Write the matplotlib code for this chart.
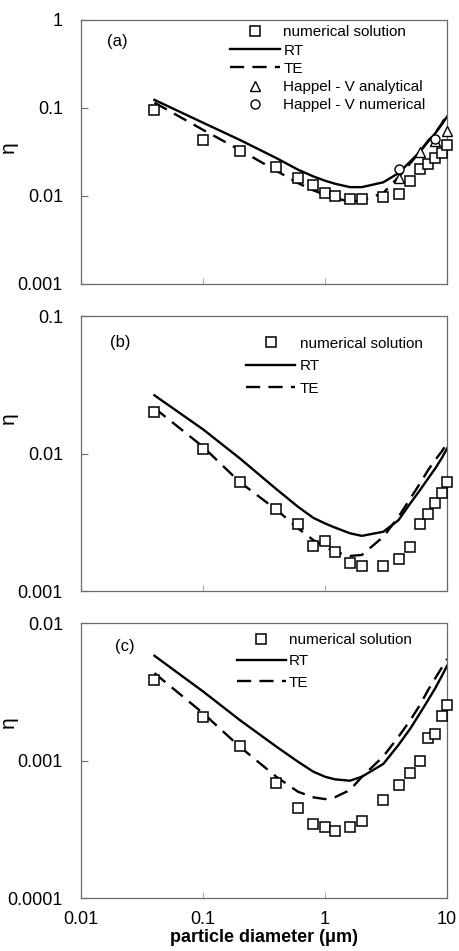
import matplotlib
matplotlib.use("Agg")
import matplotlib.pyplot as plt

plt.rcParams['font.family'] = ['Liberation Sans', 'DejaVu Sans']

# particle diameters (um), shared by all series
d = [0.04, 0.1, 0.2, 0.4, 0.6, 0.8, 1, 1.2, 1.6, 2, 3, 4, 5, 6, 7, 8, 9, 10]

# panel (a)
a_num = [0.095, 0.0427, 0.0326, 0.0211, 0.016, 0.0133, 0.0108, 0.0099, 0.0092,
         0.0092, 0.0097, 0.0106, 0.0149, 0.0202, 0.0232, 0.0272, 0.0307, 0.0381]
a_rt = [0.1236, 0.068, 0.0434, 0.0269, 0.0199, 0.0167, 0.0149, 0.0138, 0.0126,
        0.0126, 0.0143, 0.0182, 0.0247, 0.032, 0.0416, 0.0517, 0.0642, 0.08]
a_te = [0.115, 0.0564, 0.0334, 0.0193, 0.014, 0.0116, 0.0103, 0.00947, 0.0086,
        0.0089, 0.0108, 0.0164, 0.0236, 0.032, 0.0427, 0.052, 0.066, 0.084]
happel_an_d = [4, 6, 8, 10]
happel_an = [0.016, 0.032, 0.0416, 0.0554]
happel_num_d = [4, 8]
happel_num = [0.0204, 0.0442]

# panel (b)
b_num = [0.0201, 0.0108, 0.00624, 0.00393, 0.00305, 0.00211, 0.00232, 0.00192, 0.00161,
         0.00152, 0.00152, 0.00172, 0.0021, 0.00305, 0.00363, 0.00435, 0.00519, 0.00616]
b_rt = [0.0265, 0.0150, 0.00923, 0.0055, 0.0041, 0.00341, 0.0031, 0.0029, 0.00263,
        0.00252, 0.0027, 0.00328, 0.00435, 0.00543, 0.0066, 0.0078, 0.0092, 0.0109]
b_te = [0.0214, 0.0112, 0.0062, 0.0039, 0.00286, 0.00235, 0.0021, 0.00193, 0.0018,
        0.00183, 0.00248, 0.00347, 0.00472, 0.00607, 0.0076, 0.009, 0.0103, 0.0119]

# panel (c)
c_num = [0.00382, 0.00206, 0.00128, 0.000682, 0.000448, 0.000348, 0.00033, 0.000305, 0.00033,
         0.000362, 0.000515, 0.000663, 0.000805, 0.000997, 0.00147, 0.00156, 0.00209, 0.00254]
c_rt = [0.00578, 0.00318, 0.00197, 0.00126, 0.00098, 0.00083, 0.000762, 0.00073, 0.000713,
        0.000762, 0.000944, 0.0013, 0.00171, 0.00221, 0.00276, 0.00336, 0.00408, 0.00489]
c_te = [0.00432, 0.00221, 0.00126, 0.00076, 0.000593, 0.00054, 0.000524, 0.00054, 0.00061,
        0.00076, 0.00107, 0.00149, 0.00197, 0.00254, 0.00327, 0.00397, 0.0047, 0.00547]

x_ticks = [0.01, 0.1, 1, 10]
x_tick_labels = ['0.01', '0.1', '1', '10']

SPINE = '#6a6a6a'
DASH = (0, (6, 3.5))


def style_axis(ax, ylim, yticks, ylabels, show_x):
    ax.set_xscale('log')
    ax.set_yscale('log')
    ax.set_xlim(0.01, 10)
    ax.set_ylim(*ylim)
    ax.set_xticks(x_ticks)
    ax.set_xticklabels(x_tick_labels if show_x else [''] * 4)
    ax.set_yticks(yticks)
    ax.set_yticklabels(ylabels)
    ax.minorticks_off()
    ax.tick_params(axis='y', direction='in', length=5, width=0.8, color=SPINE,
                   pad=13, labelsize=13)
    ax.tick_params(axis='x', direction='in', length=4, width=0.8, color='#aaaaaa',
                   pad=9, labelsize=13)
    for s in ax.spines.values():
        s.set_color(SPINE)
        s.set_linewidth(0.9)


def draw_panel(ax, num, rt, te):
    l_rt, = ax.plot(d, rt, color='black', lw=1.7, label='RT', zorder=2)
    l_te, = ax.plot(d, te, color='black', lw=1.7, linestyle=DASH, label='TE', zorder=2)
    l_num, = ax.plot(d, num, linestyle='none', marker='s', markersize=6.5,
                     markerfacecolor='white', markeredgecolor='black',
                     markeredgewidth=1.1, label='numerical solution', zorder=3,
                     clip_on=False)
    return [l_num, l_rt, l_te]


fig = plt.figure(figsize=(4.6, 9.51), dpi=100)

ax_a = fig.add_axes([0.176, 0.7014, 0.796, 0.2776])
ax_b = fig.add_axes([0.176, 0.3785, 0.796, 0.2892])
ax_c = fig.add_axes([0.176, 0.0557, 0.796, 0.2892])

# (a)
handles = draw_panel(ax_a, a_num, a_rt, a_te)
h_tri, = ax_a.plot(happel_an_d, happel_an, linestyle='none', marker='^', markersize=7,
                   markerfacecolor='white', markeredgecolor='black', markeredgewidth=1.0,
                   label='Happel - V analytical', zorder=4, clip_on=False)
h_circ, = ax_a.plot(happel_num_d, happel_num, linestyle='none', marker='o', markersize=6.5,
                    markerfacecolor='white', markeredgecolor='black', markeredgewidth=1.0,
                    label='Happel - V numerical', zorder=4, clip_on=False)
handles += [h_tri, h_circ]
style_axis(ax_a, (0.001, 1), [0.001, 0.01, 0.1, 1], ['0.001', '0.01', '0.1', '1'], False)
ax_a.legend(handles=handles, loc='upper left', bbox_to_anchor=(0.407, 0.98),
            frameon=False, fontsize=11, handlelength=3.3, handletextpad=0.2,
            labelspacing=0.28, borderpad=0, borderaxespad=0)
ax_a.text(0.071, 0.917, '(a)', transform=ax_a.transAxes, fontsize=12, va='center')
ax_a.set_ylabel('η', fontsize=15)
ax_a.yaxis.set_label_coords(-0.172, 0.519)

# (b)
handles = draw_panel(ax_b, b_num, b_rt, b_te)
style_axis(ax_b, (0.001, 0.1), [0.001, 0.01, 0.1], ['0.001', '0.01', '0.1'], False)
ax_b.legend(handles=handles, loc='upper left', bbox_to_anchor=(0.451, 0.925),
            frameon=False, fontsize=11, handlelength=3.2, handletextpad=0.3,
            labelspacing=0.56, borderpad=0, borderaxespad=0)
ax_b.text(0.079, 0.905, '(b)', transform=ax_b.transAxes, fontsize=12, va='center')
ax_b.set_ylabel('η', fontsize=15)
ax_b.yaxis.set_label_coords(-0.172, 0.629)

# (c)
handles = draw_panel(ax_c, c_num, c_rt, c_te)
style_axis(ax_c, (0.0001, 0.01), [0.0001, 0.001, 0.01], ['0.0001', '0.001', '0.01'], True)
ax_c.legend(handles=handles, loc='upper left', bbox_to_anchor=(0.426, 0.964),
            frameon=False, fontsize=11, handlelength=3.2, handletextpad=0.2,
            labelspacing=0.48, borderpad=0, borderaxespad=0)
ax_c.text(0.093, 0.916, '(c)', transform=ax_c.transAxes, fontsize=12, va='center')
ax_c.set_ylabel('η', fontsize=15)
ax_c.yaxis.set_label_coords(-0.172, 0.64)
ax_c.set_xlabel('particle diameter (μm)', fontsize=13, fontweight='bold', labelpad=1)

fig.savefig('out.png', dpi=100)
